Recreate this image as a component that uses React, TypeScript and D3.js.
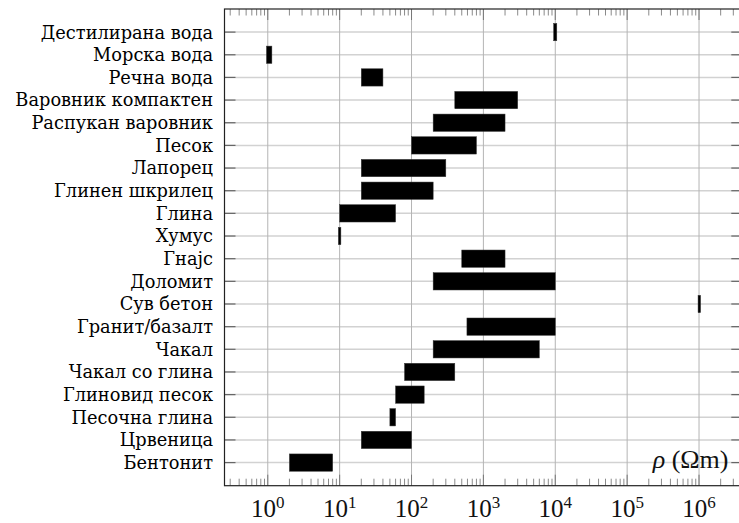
import React from "react";
import * as d3 from "d3";

// Electrical resistivity ranges of common materials (Ωm)
const categories = [
  "Дестилирана вода",
  "Морска вода",
  "Речна вода",
  "Варовник компактен",
  "Распукан варовник",
  "Песок",
  "Лапорец",
  "Глинен шкрилец",
  "Глина",
  "Хумус",
  "Гнајс",
  "Доломит",
  "Сув бетон",
  "Гранит/базалт",
  "Чакал",
  "Чакал со глина",
  "Глиновид песок",
  "Песочна глина",
  "Црвеница",
  "Бентонит",
];

const lowValues = [
  9500, 0.96, 20, 400, 200, 100, 20, 20, 10, 9.6, 500, 200, 970000, 590, 200, 80, 60, 50, 20, 2,
];
const highValues = [
  10500, 1.14, 40, 3000, 2000, 800, 300, 200, 60, 10.4, 2000, 10000, 1050000, 10000, 6000, 400, 150, 60, 100, 8,
];

const decadeExponents = [0, 1, 2, 3, 4, 5, 6];
const axisLabel = "(Ωm)";

const W = 739;
const H = 523;
const left = 224.5;
const right = 742.3;
const top = 9;
const bottom = 485.7;

export default function App() {
  const x = d3.scaleLog().domain([0.25, 4e6]).range([left, right]);
  const y = d3.scalePoint<string>().domain(categories).range([top, bottom]).padding(1.02);

  const [d0, d1] = x.domain();
  const minorTicks: number[] = [];
  for (let e = -1; e <= 6; e++) {
    for (let k = 2; k <= 9; k++) {
      const v = k * Math.pow(10, e);
      if (v >= d0 && v <= d1) minorTicks.push(v);
    }
  }

  const barH = 17.3;
  const tickFont = "'Liberation Serif', 'DejaVu Serif', serif";
  const labelFont = "'DejaVu Serif', serif";

  return (
    <svg
      width={W}
      height={H}
      style={{ position: "absolute", left: 0, top: 0, display: "block", background: "#fff" }}
    >
      {/* horizontal grid at each category */}
      {categories.map((c) => (
        <line key={"hg" + c} x1={left} x2={right} y1={y(c)} y2={y(c)} stroke="#d2d2d2" strokeWidth={1.5} />
      ))}
      {/* vertical grid at decades */}
      {decadeExponents.map((e) => (
        <line
          key={"vg" + e}
          x1={x(Math.pow(10, e))}
          x2={x(Math.pow(10, e))}
          y1={top}
          y2={bottom}
          stroke="#b4b4b4"
          strokeWidth={1}
        />
      ))}

      {/* minor ticks, top and bottom */}
      {minorTicks.map((v, i) => (
        <g key={"mt" + i} stroke="#8a8a8a" strokeWidth={1}>
          <line x1={x(v)} x2={x(v)} y1={top} y2={top + 6.5} />
          <line x1={x(v)} x2={x(v)} y1={bottom} y2={bottom - 7} />
        </g>
      ))}
      {decadeExponents.map((e) => (
        <g key={"Mt" + e} stroke="#777" strokeWidth={1}>
          <line x1={x(Math.pow(10, e))} x2={x(Math.pow(10, e))} y1={top} y2={top + 11} />
          <line x1={x(Math.pow(10, e))} x2={x(Math.pow(10, e))} y1={bottom} y2={bottom - 11} />
        </g>
      ))}

      {/* category ticks on both vertical axes */}
      {categories.map((c) => (
        <g key={"yt" + c} stroke="#666" strokeWidth={1.2}>
          <line x1={left} x2={left + 11} y1={y(c)} y2={y(c)} />
          <line x1={right} x2={right - 11} y1={y(c)} y2={y(c)} />
        </g>
      ))}

      {/* range bars */}
      {categories.map((c, i) => {
        const x0 = x(lowValues[i]);
        const x1 = x(highValues[i]);
        return (
          <rect
            key={"b" + c}
            x={x0}
            y={(y(c) as number) - barH / 2}
            width={x1 - x0}
            height={barH}
            fill="#000"
            stroke="#333"
            strokeWidth={0.5}
          />
        );
      })}

      {/* frame */}
      <rect x={left} y={top} width={right - left} height={bottom - top} fill="none" stroke="#222" strokeWidth={1.2} />

      {/* category labels */}
      {categories.map((c) => (
        <text
          key={"l" + c}
          x={213}
          y={y(c)}
          dy="0.36em"
          textAnchor="end"
          fontFamily={labelFont}
          fontSize={17.8}
          fill="#000"
        >
          {c}
        </text>
      ))}

      {/* decade labels */}
      {decadeExponents.map((e) => (
        <text
          key={"xl" + e}
          x={x(Math.pow(10, e))}
          y={516.7}
          textAnchor="middle"
          fontFamily={tickFont}
          fontSize={25}
          fill="#111"
        >
          10
          <tspan fontSize={17} dy={-8.7}>
            {e}
          </tspan>
        </text>
      ))}

      {/* axis label */}
      <text x={728.5} y={468.3} textAnchor="end" fontFamily={tickFont} fontSize={26} fill="#111">
        <tspan fontStyle="italic">ρ</tspan> {axisLabel}
      </text>
    </svg>
  );
}
